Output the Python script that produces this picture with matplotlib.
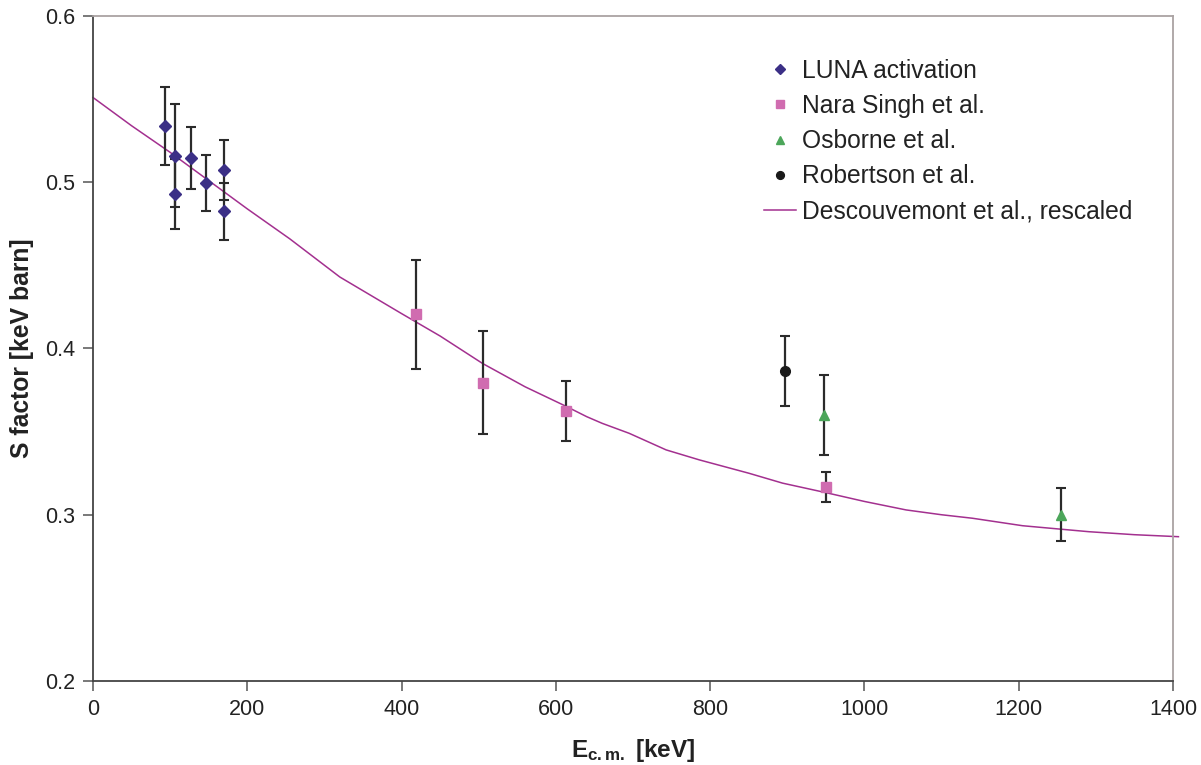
import matplotlib
matplotlib.use("Agg")
import matplotlib.pyplot as plt
from matplotlib.ticker import FormatStrFormatter

plt.rcParams['font.family'] = ['Liberation Sans', 'DejaVu Sans']
plt.rcParams['mathtext.fontset'] = 'custom'
plt.rcParams['mathtext.rm'] = 'Liberation Sans'
plt.rcParams['mathtext.bf'] = 'Liberation Sans:bold'

# LUNA activation
luna_E = [93, 106, 106, 127, 147, 170, 170]
luna_S = [0.534, 0.516, 0.493, 0.5145, 0.4995, 0.5075, 0.4825]
luna_err = [0.0235, 0.031, 0.021, 0.0185, 0.017, 0.018, 0.017]

# Nara Singh et al.
nara_E = [419, 505, 613, 950]
nara_S = [0.4205, 0.3795, 0.3625, 0.3165]
nara_err = [0.033, 0.031, 0.018, 0.009]

# Osborne et al.
osb_E = [947, 1255]
osb_S = [0.360, 0.300]
osb_err = [0.024, 0.016]

# Robertson et al.
rob_E = [897]
rob_S = [0.3865]
rob_err = [0.021]

# Descouvemont et al., rescaled
curve_E = [0, 50, 100, 150, 200, 255, 320, 400, 450, 505, 560, 612, 640, 660,
           695, 743, 786, 850, 894, 950, 1000, 1054, 1100, 1140, 1205, 1255,
           1291, 1350, 1407]
curve_S = [0.551, 0.534, 0.518, 0.501, 0.484, 0.466, 0.443, 0.421, 0.4075,
           0.391, 0.377, 0.3655, 0.359, 0.355, 0.349, 0.339, 0.333, 0.325,
           0.319, 0.3133, 0.308, 0.3029, 0.300, 0.2979, 0.2934, 0.2913,
           0.2898, 0.288, 0.2868]

x_ticks = [0, 200, 400, 600, 800, 1000, 1200, 1400]
y_ticks = [0.2, 0.3, 0.4, 0.5, 0.6]

fig = plt.figure(figsize=(12.01, 7.65), dpi=100)
ax = fig.add_axes([0.0774, 0.1098, 0.8993, 0.8693])

curve_color = '#A3308F'
ax.plot(curve_E, curve_S, color=curve_color, lw=1.1, zorder=2, clip_on=False,
        label='Descouvemont et al., rescaled')
hc = ax.get_lines()[0]

eb_kw = dict(fmt='none', ecolor='#2b2b2b', elinewidth=1.6, capsize=3.8,
             capthick=1.5, zorder=3)
for E, S, err in [(luna_E, luna_S, luna_err), (nara_E, nara_S, nara_err),
                  (osb_E, osb_S, osb_err), (rob_E, rob_S, rob_err)]:
    ax.errorbar(E, S, yerr=err, **eb_kw)

h1, = ax.plot(luna_E, luna_S, 'D', color='#3B2F86', ms=6.5, ls='none', zorder=4,
              label='LUNA activation')
h2, = ax.plot(nara_E, nara_S, 's', color='#D06CB0', ms=6.5, ls='none', zorder=4,
              label='Nara Singh et al.')
h3, = ax.plot(osb_E, osb_S, '^', color='#4CA65A', ms=7.5, ls='none', zorder=4,
              label='Osborne et al.')
h4, = ax.plot(rob_E, rob_S, 'o', color='#1a1a1a', ms=7, ls='none', zorder=4,
              label='Robertson et al.')

ax.set_xlim(0, 1400)
ax.set_ylim(0.2, 0.6)
ax.set_xticks(x_ticks)
ax.set_yticks(y_ticks)
ax.yaxis.set_major_formatter(FormatStrFormatter('%.1f'))
ax.tick_params(axis='both', labelsize=15.5, direction='out', length=7,
               width=1.1, color='#555555', labelcolor='#222222', pad=6)

for s in ['left', 'bottom']:
    ax.spines[s].set_color('#444444')
    ax.spines[s].set_linewidth(1.3)
for s in ['top', 'right']:
    ax.spines[s].set_color('#aaa3a3')
    ax.spines[s].set_linewidth(1.3)

ax.set_xlabel(r'$\mathbf{E_{c{.}m{.}}}$ [keV]', fontsize=17.5,
              fontweight='bold', color='#222222', labelpad=12)
ax.set_ylabel('S factor [keV barn]', fontsize=17.8, fontweight='bold',
              color='#222222', labelpad=8)

leg = ax.legend(handles=[h1, h2, h3, h4, hc], loc='upper left',
                bbox_to_anchor=(0.621, 0.936), frameon=False, fontsize=17.7,
                borderpad=0, borderaxespad=0, handlelength=1.3,
                handletextpad=0.25, labelspacing=0.46, markerscale=0.8)
for t in leg.get_texts():
    t.set_color('#222222')

fig.savefig('out.png', dpi=100)
